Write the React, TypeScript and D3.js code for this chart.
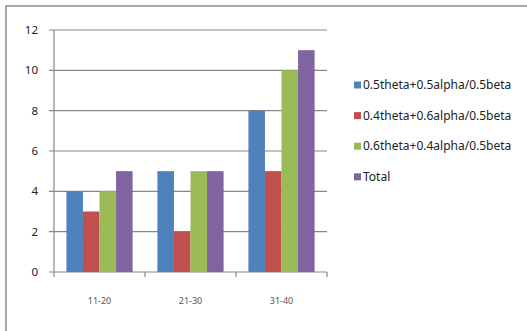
import React from "react";
import * as d3 from "d3";

const categories = ["11-20", "21-30", "31-40"];
const seriesNames = [
  "0.5theta+0.5alpha/0.5beta",
  "0.4theta+0.6alpha/0.5beta",
  "0.6theta+0.4alpha/0.5beta",
  "Total",
];
const seriesA = [4, 5, 8];
const seriesB = [3, 2, 5];
const seriesC = [4, 5, 10];
const seriesTotal = [5, 5, 11];
const yTicks = [0, 2, 4, 6, 8, 10, 12];
const colors = ["#4F81BD", "#C0504D", "#9BBB59", "#8064A2"];

export default function App() {
  const W = 527, H = 331;
  const left = 54, right = 327, top = 30, bottom = 272;
  const series = [seriesA, seriesB, seriesC, seriesTotal];
  const x = d3.scaleBand<string>().domain(categories).range([left, right]).paddingInner(0).paddingOuter(0);
  const inner = d3.scaleBand<number>().domain([0, 1, 2, 3]).range([0, x.bandwidth()]).paddingOuter(0.75).paddingInner(0);
  const y = d3.scaleLinear().domain([0, 12]).range([bottom, top]);
  const grid = "#888888";
  const font = "'Noto Sans', 'DejaVu Sans', sans-serif";
  return (
    <svg width={W} height={H} style={{ position: "absolute", left: 0, top: 0, background: "#fff" }}>
      <rect x={6} y={6} width={W + 10} height={H + 10} fill="#fff" stroke="#8a8a8a" strokeWidth={1.5} />
      {yTicks.map((t) => (
        <g key={t}>
          <line x1={left - 5} x2={right} y1={y(t)} y2={y(t)} stroke={grid} strokeWidth={1.2} />
          <text x={38} y={y(t)} dy="0.35em" textAnchor="end" fontSize={11.5} fontFamily={font} fill="#222">{t}</text>
        </g>
      ))}
      <line x1={left} x2={left} y1={top} y2={bottom} stroke={grid} strokeWidth={1.2} />
      {[...categories.map((c) => x(c) as number), right].map((px, i) => (
        <line key={i} x1={px} x2={px} y1={bottom} y2={bottom + 5} stroke={grid} strokeWidth={1.2} />
      ))}
      {categories.map((c, ci) => (
        <g key={c}>
          {series.map((s, si) => (
            <rect
              key={si}
              x={(x(c) as number) + (inner(si) as number)}
              y={y(s[ci])}
              width={inner.bandwidth()}
              height={bottom - y(s[ci])}
              fill={colors[si]}
            />
          ))}
          <text x={(x(c) as number) + x.bandwidth() / 2} y={301} dy="0.35em" textAnchor="middle" fontSize={9} fontFamily={font} fill="#555">{c}</text>
        </g>
      ))}
      {seriesNames.map((n, i) => {
        const cy = 85 + i * 30.6;
        return (
          <g key={n}>
            <rect x={354} y={cy - 3.5} width={7} height={7} fill={colors[i]} />
            <text x={363} y={cy} dy="0.35em" fontSize={12} fontFamily={font} fill="#222">{n}</text>
          </g>
        );
      })}
    </svg>
  );
}
